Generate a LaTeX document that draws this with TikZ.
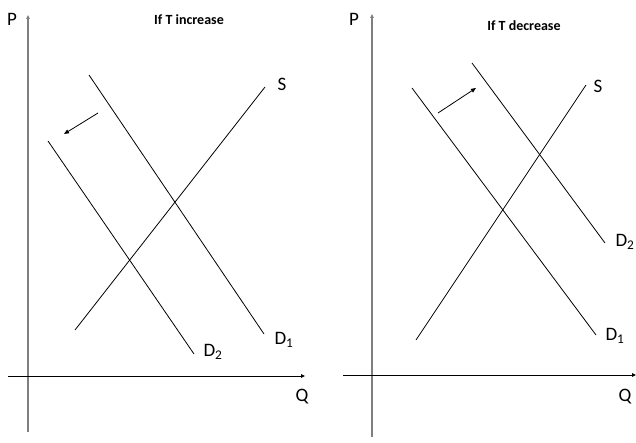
\documentclass[tikz,border=0pt]{standalone}
\usepackage{fontspec}
\setmainfont{Carlito}
\usetikzlibrary{arrows.meta}
\begin{document}
\begin{tikzpicture}[x=1pt,y=-1pt,
  curve/.style={draw=black,line width=0.8pt},
  yaxis/.style={draw=black!50,line width=1.4pt,-{Triangle[length=4pt,width=3.5pt]}},
  xaxis/.style={draw=black,line width=0.9pt,-{Triangle[length=4pt,width=3.5pt]}},
  shiftarrow/.style={draw=black,line width=0.8pt,-{Triangle[length=5pt,width=4pt]}},
  lbl/.style={font=\fontsize{19}{21}\selectfont,inner sep=0pt},
  ttl/.style={font=\bfseries\fontsize{14}{16}\selectfont,inner sep=0pt}]
\useasboundingbox (0,0) rectangle (636,443);
% ---- left panel ----
\coordinate (lPb) at (28,432); \coordinate (lPt) at (28,15);
\coordinate (lQl) at (8,376);  \coordinate (lQr) at (305,376);
\draw[yaxis] (lPb) -- (lPt);
\draw[xaxis] (lQl) -- (lQr);
\node[lbl] (lP) at (12,19) {P};
\node[lbl] (lQ) at (302,397) {Q};
\node[ttl] (lT) at (189,20) {If T increase};
\coordinate (lSa) at (75,330); \coordinate (lSb) at (265,87);
\coordinate (lD1a) at (89,75); \coordinate (lD1b) at (264,334);
\coordinate (lD2a) at (48,141); \coordinate (lD2b) at (194,354);
\draw[curve] (lSa) -- (lSb);
\draw[curve] (lD1a) -- (lD1b);
\draw[curve] (lD2a) -- (lD2b);
\node[lbl] (lS) at (282,84) {S};
\node[lbl] (lD1) at (284,340) {D$_{\mathrm{1}}$};
\node[lbl] (lD2) at (213,352) {D$_{\mathrm{2}}$};
\coordinate (lAa) at (98,113); \coordinate (lAb) at (64,134);
\draw[shiftarrow] (lAa) -- (lAb);
% ---- right panel ----
\coordinate (rPb) at (372,437); \coordinate (rPt) at (372,14);
\coordinate (rQl) at (343,375); \coordinate (rQr) at (636,375);
\draw[yaxis] (rPb) -- (rPt);
\draw[xaxis] (rQl) -- (rQr);
\node[lbl] (rP) at (354,19) {P};
\node[lbl] (rQ) at (625,397) {Q};
\node[ttl] (rT) at (524,26) {If T decrease};
\coordinate (rSa) at (416,340); \coordinate (rSb) at (586,85);
\coordinate (rD1a) at (412,88); \coordinate (rD1b) at (596,335);
\coordinate (rD2a) at (472,63); \coordinate (rD2b) at (605,243);
\draw[curve] (rSa) -- (rSb);
\draw[curve] (rD1a) -- (rD1b);
\draw[curve] (rD2a) -- (rD2b);
\node[lbl] (rS) at (598,86) {S};
\node[lbl] (rD1) at (615,336) {D$_{\mathrm{1}}$};
\node[lbl] (rD2) at (625,242) {D$_{\mathrm{2}}$};
\coordinate (rAa) at (438,113); \coordinate (rAb) at (476,88);
\draw[shiftarrow] (rAa) -- (rAb);
\end{tikzpicture}
\end{document}
